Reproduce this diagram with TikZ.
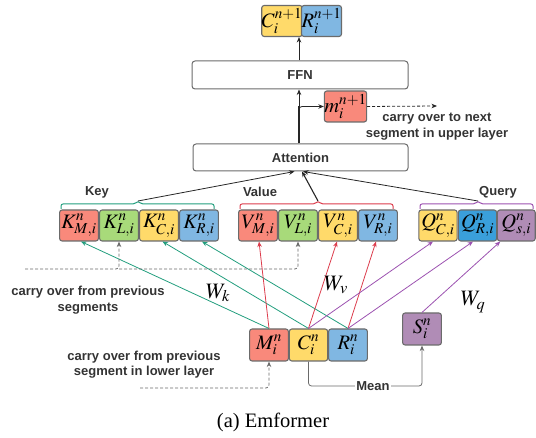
\documentclass[tikz,border=0pt]{standalone}
\usepackage{mathptmx}
\usepackage{fontspec}
\setmainfont{Liberation Serif}
\setsansfont{Liberation Sans}
\usetikzlibrary{arrows.meta,calc}

\definecolor{salmon}{HTML}{F9897B}
\definecolor{leaf}{HTML}{A8DA7A}
\definecolor{butter}{HTML}{FFDA6A}
\definecolor{sky}{HTML}{80B7E2}
\definecolor{ocean}{HTML}{3A9FDB}
\definecolor{lilac}{HTML}{B08CB6}
\definecolor{boxgray}{HTML}{6B6B6B}
\definecolor{txtgray}{HTML}{333333}
\definecolor{keyline}{HTML}{229E7E}
\definecolor{valline}{HTML}{DC3C4C}
\definecolor{qryline}{HTML}{9C52B0}
\definecolor{flowgray}{HTML}{6A6A6A}

\begin{document}
\begin{tikzpicture}[x=1pt,y=-1pt,
  cell/.style={draw=boxgray,line width=1.1pt,rounded corners=2.5pt,
    minimum width=38.8pt,minimum height=31pt,inner sep=0pt,
    font=\fontsize{20.5}{20.5}\selectfont},
  block/.style={draw=boxgray,line width=1pt,rounded corners=3pt,fill=white,
    inner sep=0pt,font=\sffamily\bfseries\fontsize{13}{15}\selectfont,text=txtgray},
  lbl/.style={font=\sffamily\bfseries\fontsize{13}{15.5}\selectfont,
    text=txtgray,align=center,inner sep=0pt},
  wlbl/.style={font=\fontsize{22}{22}\selectfont,inner sep=0pt},
  arr/.style={-{Stealth[length=5.5pt,width=4.5pt]}},
  keyarr/.style={arr,draw=keyline,line width=0.8pt},
  valarr/.style={arr,draw=valline,line width=0.8pt},
  qryarr/.style={arr,draw=qryline,line width=0.8pt},
  grayarr/.style={arr,draw=flowgray,line width=0.8pt},
  dasharr/.style={grayarr,dash pattern=on 3pt off 2pt},
  blackarr/.style={arr,draw=black!85,line width=0.8pt},
  bracepath/.style={line width=1pt,rounded corners=2pt}
]
\useasboundingbox (0,0) rectangle (536,438);

% output of the layer
\node[cell,fill=butter,minimum width=37.8pt] (Cout) at (282,21) {$C_i^{n+1}$};
\node[cell,fill=sky] (Rout) at (321.5,21) {$R_i^{n+1}$};

% main blocks
\node[block,minimum width=216pt,minimum height=28pt] (ffn) at (300,75) {FFN};
\node[block,minimum width=215pt,minimum height=27pt] (att) at (300.5,157.5) {Attention};

% memory output
\node[cell,fill=salmon,minimum width=39pt] (mout) at (345.5,106.5) {$m_i^{n+1}$};
\coordinate (split) at (299,106);
\coordinate (mnext) at (437,106);
\node[lbl] (upper) at (437,126.5) {carry over to next\\segment in upper layer};

\draw[line width=1.6pt,black!85] (att.north -| split) -- (split);
\draw[blackarr] (split) -- (ffn.south -| split);
\draw[blackarr,rounded corners=3pt] ($(split)+(0,2)$) |- (mout.west);
\draw[blackarr] (ffn.north -| split) -- (Cout.south -| split);
\draw[blackarr,dash pattern=on 3pt off 2pt] (mout.east) -- (mnext);

% key / value / query cells
\node[cell,fill=salmon] (KM) at (79,225.5)  {$K^n_{M,i}$};
\node[cell,fill=leaf]   (KL) at (119,225.5) {$K^n_{L,i}$};
\node[cell,fill=butter] (KC) at (159,225.5) {$K^n_{C,i}$};
\node[cell,fill=sky]    (KR) at (199,225.5) {$K^n_{R,i}$};

\node[cell,fill=salmon] (VM) at (258,225.5) {$V^n_{M,i}$};
\node[cell,fill=leaf]   (VL) at (298,225.5) {$V^n_{L,i}$};
\node[cell,fill=butter] (VC) at (338,225.5) {$V^n_{C,i}$};
\node[cell,fill=sky]    (VR) at (378,225.5) {$V^n_{R,i}$};

\node[cell,fill=butter,minimum width=38.3pt] (QC) at (438,225.5)   {$Q^n_{C,i}$};
\node[cell,fill=ocean,minimum width=38.3pt]  (QR) at (477.5,225.5) {$Q^n_{R,i}$};
\node[cell,fill=lilac,minimum width=37.8pt]  (QS) at (516.3,225.5) {$Q^n_{s,i}$};

% braces and their labels
\coordinate (ktip) at (138,201);
\coordinate (vtip) at (318,201);
\coordinate (qtip) at (478,201);
\draw[bracepath,keyline] (61,209) -- (61,204) -- (135,204) -- (ktip) -- (141,204) -- (214,204) -- (214,209);
\draw[bracepath,valline] (240,209) -- (240,204) -- (315,204) -- (vtip) -- (321,204) -- (393,204) -- (393,209);
\draw[bracepath,qryline] (420,209) -- (420,204) -- (475,204) -- (qtip) -- (481,204) -- (533,204) -- (533,209);
\node[lbl] (keylbl) at (97,192) {Key};
\node[lbl] (vallbl) at (260,192) {Value};
\node[lbl] (qrylbl) at (498,192) {Query};

\draw[blackarr] (ktip) -- ([xshift=-6pt]att.south);
\draw[blackarr,line width=1.1pt] (vtip) -- ([xshift=1.5pt]att.south);
\draw[blackarr] (qtip) -- ([xshift=2.5pt]att.south);

% current segment inputs
\node[cell,fill=salmon,minimum height=32pt] (Min) at (269,345)   {$M_i^n$};
\node[cell,fill=butter,minimum width=38.3pt,minimum height=32pt] (Cin) at (308.5,345) {$C_i^n$};
\node[cell,fill=sky,minimum height=32pt]    (Rin) at (348,345)   {$R_i^n$};
\node[cell,fill=lilac,minimum height=32pt]  (Sin) at (422,329)   {$S_i^n$};

% projections
\draw[keyarr] (Min.north) -- ([xshift=2pt]KM.south);
\draw[keyarr] (Cin.north) -- ([xshift=3.5pt]KC.south);
\draw[keyarr] (Rin.north) -- ([xshift=3pt]KR.south);
\draw[valarr] (Min.north) -- ([xshift=1pt]VM.south);
\draw[valarr] (Cin.north) -- ([xshift=-1pt]VC.south);
\draw[valarr] (Rin.north) -- ([xshift=-2pt]VR.south);
\draw[qryarr] (Cin.north) -- ([xshift=-5pt]QC.south);
\draw[qryarr] (Rin.north) -- ([xshift=-4.5pt]QR.south);
\draw[qryarr] (Sin.north) -- ([xshift=-16pt]QS.south);

\node[wlbl] (Wk) at (218,293) {$W_k$};
\node[wlbl] (Wv) at (336,285) {$W_v$};
\node[wlbl] (Wq) at (473,302) {$W_q$};

% carried-over states
\coordinate (prevseg) at (25,269);
\coordinate (lowseg) at (140,388);
\draw[dasharr,rounded corners=3pt] (prevseg) -| (KL.south);
\draw[dasharr,rounded corners=3pt] (KL.south |- prevseg) -| (VL.south);
\draw[dasharr,rounded corners=3pt] (lowseg) -| (Min.south);
\node[lbl] (prevlbl) at (88,300) {carry over from previous\\segments};
\node[lbl] (lowlbl) at (144,364.5) {carry over from previous\\segment in lower layer};

% summary vector
\draw[grayarr,rounded corners=3pt] (Cin.south) -- (Cin.south |- 0,386) -| (Sin.south);
\node[lbl,fill=white,inner xsep=1pt] (meanlbl) at (373,386) {Mean};

% caption
\node[font=\fontsize{20.5}{24}\selectfont,inner sep=0pt] (caption) at (273,422) {(a) Emformer};
\end{tikzpicture}
\end{document}
